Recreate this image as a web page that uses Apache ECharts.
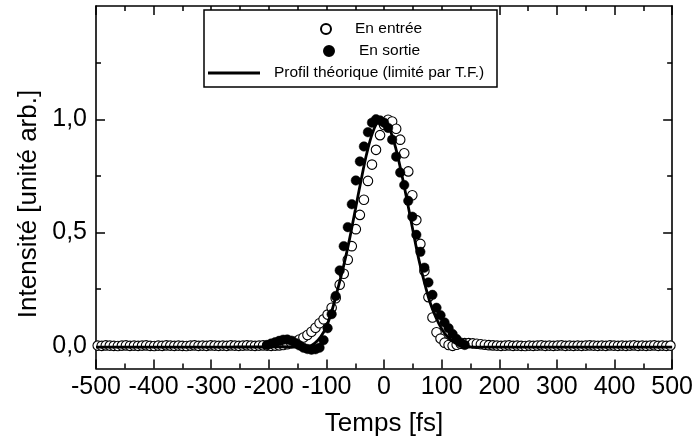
<!DOCTYPE html>
<html>
<head>
<meta charset="utf-8">
<script src="https://cdn.jsdelivr.net/npm/echarts@6/dist/echarts.min.js"></script>
<style>
  html, body { margin: 0; padding: 0; background: #fff; }
  #chart { width: 696px; height: 444px; }
</style>
</head>
<body>
<div id="chart"></div>
<script>
// Impulsion mesurée en entrée (cercles vides), temps en fs
const tempsEntree = [
  -497,-490,-483,-476,-469,-462,-455,-448,-441,-434,
  -427,-420,-413,-406,-399,-392,-385,-378,-371,-364,
  -357,-350,-343,-336,-329,-322,-315,-308,-301,-294,
  -287,-280,-273,-266,-259,-252,-245,-238,-231,-224,
  -217,-210,-203,-196,-189,-182,-175,-168,-161,-154,
  -147,-140,-133,-126,-119,-112,-105,-98,-91,-84,
  -77,-70,-63,-56,-49,-42,-35,-28,-21,-14,
  -7,0,7,14,21,28,35,42,49,56,
  63,70,77,84,91,98,105,112,119,126,
  133,140,147,154,161,168,175,182,189,196,
  203,210,217,224,231,238,245,252,259,266,
  273,280,287,294,301,308,315,322,329,336,
  343,350,357,364,371,378,385,392,399,406,
  413,420,427,434,441,448,455,462,469,476,
  483,490,497
];
const entree = [
  0.001,0.000,0.002,0.001,0.000,-0.001,0.001,0.002,0.000,0.001,
  0.000,0.001,0.002,0.000,-0.001,0.001,0.000,0.002,0.001,0.000,
  0.001,0.000,-0.001,0.001,0.002,0.000,0.001,0.000,0.002,0.001,
  0.000,0.001,0.000,0.002,0.001,0.000,0.001,0.002,0.001,0.000,
  0.001,0.002,0.001,0.000,0.001,0.002,0.004,0.007,0.012,0.019,
  0.028,0.037,0.048,0.062,0.080,0.100,0.117,0.138,0.168,0.210,
  0.270,0.318,0.380,0.440,0.515,0.578,0.645,0.728,0.800,0.865,
  0.930,0.975,0.998,0.990,0.958,0.910,0.850,0.770,0.665,0.555,
  0.450,0.330,0.215,0.125,0.060,0.032,0.014,0.004,0.000,0.005,
  0.009,0.012,0.012,0.011,0.009,0.007,0.005,0.003,0.002,0.001,
  0.000,0.001,0.002,0.000,0.001,0.000,-0.001,0.001,0.000,0.001,
  0.002,0.000,0.001,0.000,0.001,0.002,0.000,0.001,0.000,0.001,
  0.000,0.001,0.002,0.001,0.000,0.001,0.000,0.002,0.001,0.000,
  0.001,0.000,0.001,0.002,0.000,0.001,0.000,0.001,0.002,0.000,
  0.001,0.000,0.001
];

// Impulsion mesurée en sortie (cercles pleins)
const tempsSortie = [
  -203,-196,-189,-182,-175,-168,-161,-154,-147,-140,
  -133,-126,-119,-112,-105,-98,-91,-84,-77,-70,
  -63,-56,-49,-42,-35,-28,-21,-14,-7,0,
  7,14,21,28,35,42,49,56,63,70,
  77,84,91,98,105,112,119,126,133,140
];
const sortie = [
  0.004,0.010,0.016,0.022,0.027,0.028,0.023,0.013,0.002,-0.008,
  -0.014,-0.017,-0.015,-0.008,0.025,0.078,0.140,0.220,0.333,0.440,
  0.524,0.625,0.730,0.814,0.880,0.943,0.985,1.000,0.995,0.985,
  0.962,0.910,0.835,0.765,0.710,0.640,0.570,0.490,0.415,0.345,
  0.280,0.225,0.168,0.135,0.103,0.078,0.052,0.030,0.014,0.004
];

// Profil théorique limité par transformée de Fourier
const tempsTheo = [
  -500,-400,-300,-250,-200,-180,-160,-150,-140,-130,-120,-110,-100,-90,-80,-70,
  -60,-50,-40,-30,-20,-10,0,10,20,30,40,50,60,70,80,90,100,110,120,130,140,150,
  160,180,200,250,300,400,500
];
const theorique = [
  -0.006,-0.006,-0.006,-0.005,-0.005,-0.004,-0.005,-0.007,-0.008,-0.003,0.012,0.040,0.085,0.160,0.255,0.355,
  0.470,0.600,0.730,0.850,0.940,0.990,0.995,0.955,0.875,0.765,0.640,0.510,0.385,0.280,0.190,0.125,0.075,0.040,0.018,0.006,-0.001,-0.005,
  -0.006,-0.006,-0.006,-0.006,-0.006,-0.006,-0.006
];

// Graduations
const xMin = -500, xMax = 500, xStep = 100;
const yMin = -0.1, yMax = 1.5;
const yLabelValues = [0, 0.5, 1.0];
const yMinorValues = [0.25, 0.75, 1.25];

const noms = {
  entree: 'En entrée',
  sortie: 'En sortie',
  theo: 'Profil théorique (limité par T.F.)'
};

const zip = (xs, ys) => xs.map((x, i) => [x, ys[i]]);

const FONT = 'Liberation Sans, Arial, Helvetica, sans-serif';
const black = '#000';

function xAxisCfg(position, withLabels) {
  return {
    type: 'value', position, min: xMin, max: xMax, interval: xStep,
    axisLine: { show: true, onZero: false, lineStyle: { color: black, width: 1.6 } },
    axisTick: { show: true, inside: true, length: 9, lineStyle: { color: black, width: 1.5 } },
    minorTick: { show: true, splitNumber: 2, length: 5, lineStyle: { color: black, width: 1.5 } },
    axisLabel: withLabels ? {
      show: true, color: black, fontFamily: FONT, fontSize: 25, margin: 6,
      showMinLabel: true, showMaxLabel: true
    } : { show: false },
    splitLine: { show: false },
    minorSplitLine: { show: false },
    name: withLabels ? 'Temps [fs]' : '',
    nameLocation: 'middle', nameGap: 42,
    nameTextStyle: { color: black, fontFamily: FONT, fontSize: 26 }
  };
}

function yAxisCfg(position, ticks, len, withLine, withLabels) {
  return {
    type: 'value', position, min: yMin, max: yMax,
    axisLine: { show: withLine, onZero: false, lineStyle: { color: black, width: 1.6 } },
    axisTick: { show: true, inside: true, length: len, customValues: ticks,
      lineStyle: { color: black, width: 1.5 } },
    axisLabel: withLabels ? {
      show: true, customValues: yLabelValues, color: black, fontFamily: FONT,
      fontSize: 25, margin: 9,
      formatter: v => v.toFixed(1).replace('.', ',')
    } : { show: false },
    splitLine: { show: false }
  };
}

const legendText = { color: black, fontFamily: FONT, fontSize: 15.5, lineHeight: 16 };

const chart = echarts.init(document.getElementById('chart'), null, { renderer: 'canvas' });

chart.setOption({
  animation: false,
  backgroundColor: '#fff',
  grid: { left: 96, right: 23, top: 6, bottom: 75.5, containLabel: false },
  xAxis: [xAxisCfg('bottom', true), xAxisCfg('top', false)],
  yAxis: [
    yAxisCfg('left', yLabelValues, 9, true, true),
    yAxisCfg('left', yMinorValues, 5, false, false),
    yAxisCfg('right', yLabelValues, 9, true, false),
    yAxisCfg('right', yMinorValues, 5, false, false)
  ],
  legend: [
    {
      data: [noms.entree], left: 320, top: 21, padding: 0, z: 6,
      itemWidth: 48, itemHeight: 10, selectedMode: false,
      textStyle: legendText
    },
    {
      data: [noms.sortie], left: 323, top: 43, padding: 0, z: 6,
      itemWidth: 50, itemHeight: 10, selectedMode: false,
      textStyle: legendText
    },
    {
      data: [{ name: noms.theo, icon: 'rect' }], left: 208, top: 65, padding: 0, z: 6,
      itemWidth: 52, itemHeight: 3, selectedMode: false,
      textStyle: Object.assign({}, legendText, { padding: [0, 0, 0, 9] })
    }
  ],
  graphic: [
    {
      type: 'rect', z: 5,
      shape: { x: 204, y: 10, width: 293, height: 77 },
      style: { fill: '#fff', stroke: black, lineWidth: 1.5 }
    },
    {
      type: 'text', z: 5,
      x: 29, y: 204, rotation: Math.PI / 2,
      style: {
        text: 'Intensité [unité arb.]', fill: black,
        font: '26px ' + FONT, align: 'center', verticalAlign: 'middle'
      }
    }
  ],
  series: [
    {
      name: noms.entree, type: 'scatter', xAxisIndex: 0, yAxisIndex: 0,
      data: zip(tempsEntree, entree),
      symbol: 'circle', symbolSize: 9.5,
      itemStyle: { color: '#fff', borderColor: black, borderWidth: 1.1, opacity: 1 },
      emphasis: { disabled: true }
    },
    {
      name: noms.sortie, type: 'scatter', xAxisIndex: 0, yAxisIndex: 0,
      data: zip(tempsSortie, sortie),
      symbol: 'circle', symbolSize: 9.5,
      itemStyle: { color: black, borderColor: black, borderWidth: 0.5, opacity: 1 },
      emphasis: { disabled: true }
    },
    {
      name: noms.theo, type: 'line', xAxisIndex: 0, yAxisIndex: 0,
      data: zip(tempsTheo, theorique),
      symbol: 'none', smooth: 0.35,
      lineStyle: { color: black, width: 2.8 },
      itemStyle: { color: black },
      emphasis: { disabled: true }
    }
  ]
});
</script>
</body>
</html>
